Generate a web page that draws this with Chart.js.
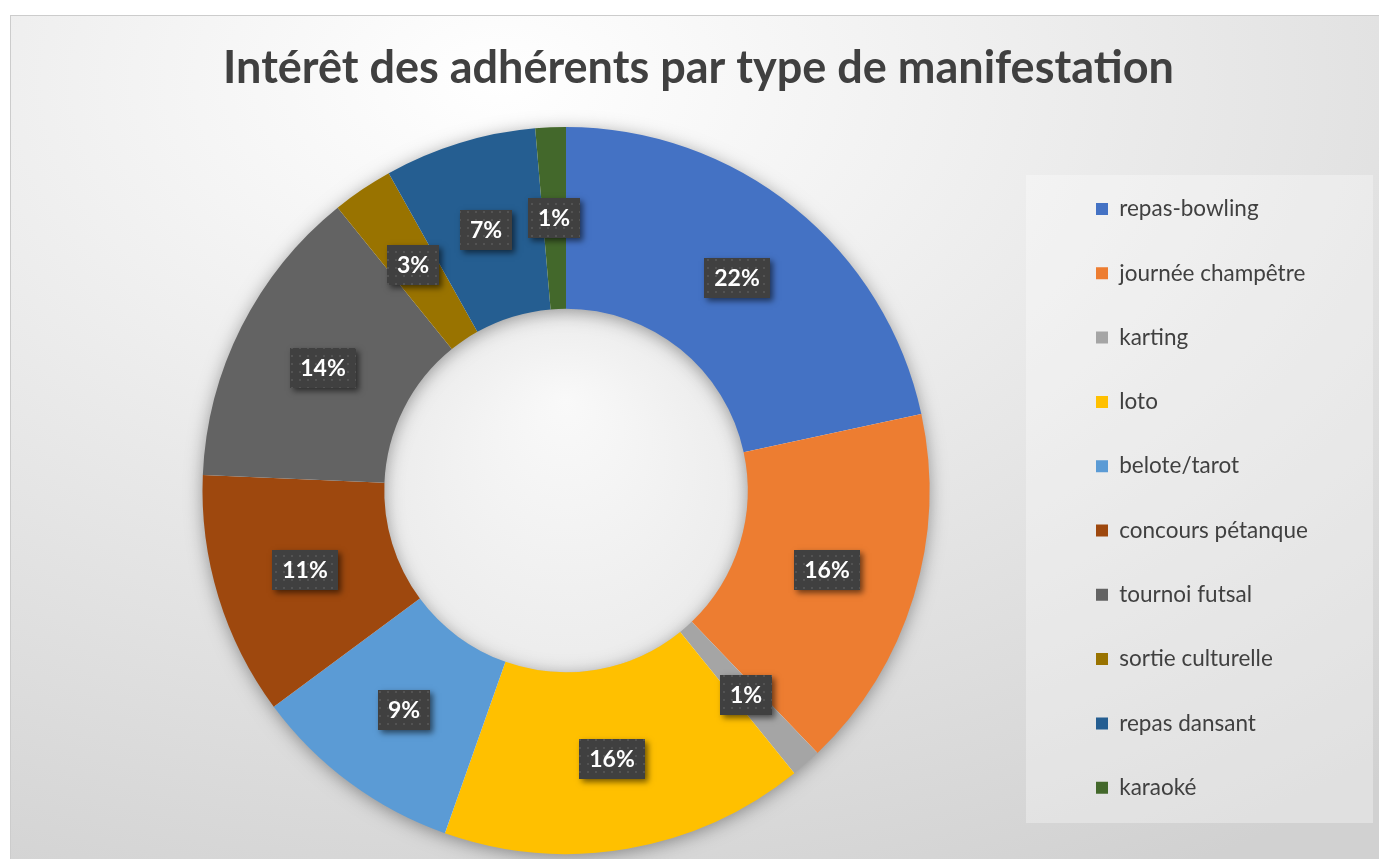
<!DOCTYPE html>
<html lang="fr">
<head>
<meta charset="utf-8">
<title>Intérêt des adhérents par type de manifestation</title>
<script src="https://cdn.jsdelivr.net/npm/chart.js@4.4.1/dist/chart.umd.min.js"></script>
<style>
  html, body { margin: 0; padding: 0; overflow: hidden; background: #ffffff; }
  #wrap { position: relative; width: 1379px; height: 859px; overflow: hidden; }
  #frame {
    position: absolute; left: 10px; top: 15px; width: 1400px; height: 900px;
    border: 1px solid #cccccc;
    background: radial-gradient(ellipse 1400px 900px at 490px 65px, #ffffff 0%, #d1d1d1 100%);
  }
  #legendBg { position: absolute; left: 1026px; top: 175px; width: 347px; height: 648px; background: rgba(255, 255, 255, 0.32); }
  canvas { position: absolute; left: 0; top: 0; }
</style>
</head>
<body>
<div id="wrap">
  <div id="frame"></div>
  <div id="legendBg"></div>
  <canvas id="manifChart" width="1379" height="859"></canvas>
</div>
<script>
const categories = [
  'repas-bowling', 'journée champêtre', 'karting', 'loto', 'belote/tarot',
  'concours pétanque', 'tournoi futsal', 'sortie culturelle', 'repas dansant', 'karaoké'
];
const adherents = [16, 12, 1, 12, 7, 8, 10, 2, 5, 1];
const sliceColors = [
  '#4472C4', '#ED7D31', '#A5A5A5', '#FFC000', '#5B9BD5',
  '#9E480E', '#636363', '#997300', '#255E91', '#43682B'
];

const legendWidth = 265;

// force a fixed legend width so the doughnut and the title land where they should
const fixedLegend = {
  id: 'fixedLegend',
  beforeInit(chart) {
    const fit = chart.legend.fit;
    chart.legend.fit = function () {
      fit.call(this);
      this.width = legendWidth;
    };
  }
};

// soft shadow under the ring + light fill in the hole
const ringShadow = {
  id: 'ringShadow',
  beforeDatasetsDraw(chart) {
    const arc = chart.getDatasetMeta(0).data[0];
    if (!arc) return;
    const {x, y, innerRadius, outerRadius} = arc.getProps(['x', 'y', 'innerRadius', 'outerRadius'], true);
    const ctx = chart.ctx;
    ctx.save();
    const g = ctx.createRadialGradient(x, y - innerRadius * 0.5, 0, x, y, innerRadius);
    g.addColorStop(0, '#f9f9f9');
    g.addColorStop(1, '#ececec');
    ctx.fillStyle = g;
    ctx.beginPath();
    ctx.arc(x, y, innerRadius, 0, Math.PI * 2);
    ctx.fill();
    ctx.shadowColor = 'rgba(0, 0, 0, 0.4)';
    ctx.shadowBlur = 18;
    ctx.shadowOffsetY = 3;
    ctx.fillStyle = '#ffffff';
    ctx.beginPath();
    ctx.arc(x, y, outerRadius - 1, 0, Math.PI * 2);
    ctx.arc(x, y, innerRadius + 1, 0, Math.PI * 2, true);
    ctx.fill();
    ctx.restore();
  }
};

// dark percentage boxes in the middle of each slice
const pctLabels = {
  id: 'pctLabels',
  afterDatasetsDraw(chart) {
    const ctx = chart.ctx;
    const values = chart.data.datasets[0].data;
    const total = values.reduce((a, b) => a + b, 0);

    const tile = document.createElement('canvas');
    tile.width = 8;
    tile.height = 8;
    const tctx = tile.getContext('2d');
    tctx.fillStyle = 'rgba(255, 255, 255, 0.1)';
    tctx.fillRect(3, 3, 2, 2);
    const dots = ctx.createPattern(tile, 'repeat');

    ctx.save();
    ctx.font = 'bold 23px Lato';
    ctx.textAlign = 'center';
    ctx.textBaseline = 'middle';
    chart.getDatasetMeta(0).data.forEach((arc, i) => {
      const {x, y} = arc.getCenterPoint();
      const text = Math.round(values[i] / total * 100) + '%';
      const w = Math.round(ctx.measureText(text).width + 20);
      const h = 40;
      const left = Math.round(x - w / 2);
      const top = Math.round(y - h / 2);
      ctx.save();
      ctx.shadowColor = 'rgba(0, 0, 0, 0.55)';
      ctx.shadowBlur = 6;
      ctx.shadowOffsetX = 3;
      ctx.shadowOffsetY = 3;
      ctx.fillStyle = '#404040';
      ctx.fillRect(left, top, w, h);
      ctx.restore();
      ctx.fillStyle = dots;
      ctx.fillRect(left, top, w, h);
      ctx.fillStyle = '#ffffff';
      ctx.fillText(text, left + w / 2, top + h / 2 + 1);
    });
    ctx.restore();
  }
};

const ctx = document.getElementById('manifChart').getContext('2d');
const manifChart = new Chart(ctx, {
  type: 'doughnut',
  data: {
    labels: categories,
    datasets: [{
      data: adherents,
      backgroundColor: sliceColors,
      borderWidth: 0
    }]
  },
  options: {
    responsive: false,
    animation: false,
    cutout: '50%',
    layout: {
      padding: { left: 77.8, right: 59.8, top: 15, bottom: 5 }
    },
    plugins: {
      title: {
        display: true,
        text: 'Intérêt des adhérents par type de manifestation',
        color: '#404040',
        font: { family: 'Lato', size: 45, weight: 'bold', lineHeight: 1.2 },
        padding: { top: 26, bottom: 32 }
      },
      legend: {
        position: 'right',
        fullSize: false,
        align: 'center',
        title: {
          display: true,
          text: '',
          font: { size: 10, lineHeight: 1 },
          padding: { top: 5.7, bottom: 0 }
        },
        labels: {
          boxWidth: 12,
          boxHeight: 12,
          padding: 41.8,
          color: '#404040',
          font: { family: 'Lato', size: 22.5 }
        }
      },
      tooltip: { enabled: false }
    }
  },
  plugins: [fixedLegend, ringShadow, pctLabels]
});
</script>
</body>
</html>
